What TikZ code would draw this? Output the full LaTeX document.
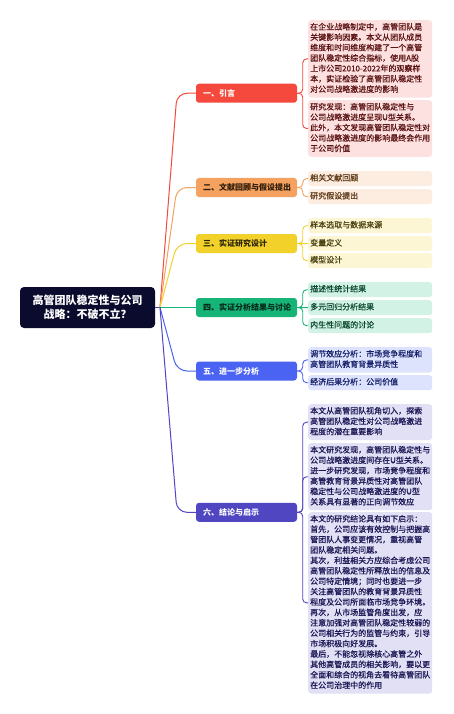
\documentclass[tikz,border=0pt]{standalone}
\usepackage{fontspec}
\setmainfont{Noto Sans CJK SC}
\newfontfamily\leaffont[RawFeature={embolden=0.6}]{Noto Sans CJK SC}
\definecolor{rootc}{HTML}{0B0B2E}
\definecolor{stubc}{HTML}{3B3F9E}
\definecolor{redB}{HTML}{F4493C}\definecolor{redL}{HTML}{FDE1E0}\definecolor{redT}{HTML}{5B1414}
\definecolor{oraB}{HTML}{F5A261}\definecolor{oraL}{HTML}{FDEDE0}\definecolor{oraT}{HTML}{5C3714}\definecolor{oraBT}{HTML}{2B1A08}
\definecolor{yelB}{HTML}{F2D12A}\definecolor{yelL}{HTML}{FDF6D5}\definecolor{yelT}{HTML}{4D4312}\definecolor{yelBT}{HTML}{2A2408}
\definecolor{grnB}{HTML}{17B477}\definecolor{grnL}{HTML}{D2F2E5}\definecolor{grnT}{HTML}{0D4A30}\definecolor{grnBT}{HTML}{06281A}
\definecolor{bluB}{HTML}{4A63F2}\definecolor{bluL}{HTML}{DEE3FD}\definecolor{bluT}{HTML}{16206A}
\definecolor{purB}{HTML}{5146C2}\definecolor{purL}{HTML}{E1E0F5}\definecolor{purT}{HTML}{1C1855}
\begin{document}
\begin{tikzpicture}[x=1pt,y=-1pt,
  rootbox/.style={fill=rootc, text=white, rounded corners=4pt, minimum width=135pt, minimum height=41pt, align=center, inner sep=2pt, font=\fontsize{11}{13.5}\selectfont\bfseries},
  leaf/.style={rounded corners=3pt, anchor=north west, text width=120pt, inner xsep=2pt, inner ysep=2.3pt, align=left, font=\leaffont\fontsize{8}{10.4}\selectfont, execute at begin node=\strut, execute at end node=\strut},
  branch/.style={rounded corners=3pt, text width=87pt, inner xsep=7pt, inner ysep=0pt, minimum height=19pt, align=left, font=\fontsize{8}{10}\selectfont\bfseries},
  link/.style={line width=1pt, rounded corners=10pt},
  sub/.style={line width=0.9pt, rounded corners=4pt}]
\useasboundingbox (0,0) rectangle (453,714);
\fill[white] (0,0) rectangle (453,714);

\node[rootbox] (root) at (87.5,307.5) {高管团队稳定性与公司\\战略：不破不立？};
\coordinate (J) at (160,307.5);

\node[branch, fill=redB, text=white] (b1) at (246.5,93.25) {一、引言};
\node[branch, fill=oraB, text=oraBT] (b2) at (246.5,187.5) {二、文献回顾与假设提出};
\node[branch, fill=yelB, text=yelBT] (b3) at (246.5,243.5) {三、实证研究设计};
\node[branch, fill=grnB, text=grnBT] (b4) at (246.5,307.5) {四、实证分析结果与讨论};
\node[branch, fill=bluB, text=white] (b5) at (246.5,371) {五、进一步分析};
\node[branch, fill=purB, text=white] (b6) at (246.5,512.3) {六、结论与启示};

\node[leaf, fill=redL, text=redT] (l11) at (308,20) {在企业战略制定中，高管团队是\\关键影响因素。本文从团队成员\\维度和时间维度构建了一个高管\\团队稳定性综合指标，使用A股\\上市公司2010-2022年的观察样\\本，实证检验了高管团队稳定性\\对公司战略激进度的影响};
\node[leaf, fill=redL, text=redT] (l12) at (308,100) {研究发现：高管团队稳定性与\\公司战略激进度呈现U型关系。\\此外，本文发现高管团队稳定性对\\公司战略激进度的影响最终会作用\\于公司价值};

\node[leaf, fill=oraL, text=oraT] (l21) at (308,171) {相关文献回顾};
\node[leaf, fill=oraL, text=oraT] (l22) at (308,189) {研究假设提出};

\node[leaf, fill=yelL, text=yelT] (l31) at (308,218) {样本选取与数据来源};
\node[leaf, fill=yelL, text=yelT] (l32) at (308,236) {变量定义};
\node[leaf, fill=yelL, text=yelT] (l33) at (308,253) {模型设计};

\node[leaf, fill=grnL, text=grnT] (l41) at (308,282) {描述性统计结果};
\node[leaf, fill=grnL, text=grnT] (l42) at (308,300) {多元回归分析结果};
\node[leaf, fill=grnL, text=grnT] (l43) at (308,318) {内生性问题的讨论};

\node[leaf, fill=bluL, text=bluT] (l51) at (308,347) {调节效应分析：市场竞争程度和\\高管团队教育背景异质性};
\node[leaf, fill=bluL, text=bluT] (l52) at (308,375) {经济后果分析：公司价值};

\node[leaf, fill=purL, text=purT] (l61) at (308,404) {本文从高管团队视角切入，探索\\高管团队稳定性对公司战略激进\\程度的潜在重要影响};
\node[leaf, fill=purL, text=purT] (l62) at (308,443) {本文研究发现，高管团队稳定性与\\公司战略激进度间存在U型关系。\\进一步研究发现，市场竞争程度和\\高管教育背景异质性对高管团队\\稳定性与公司战略激进度的U型\\关系具有显著的正向调节效应};
\node[leaf, fill=purL, text=purT] (l63) at (308,512) {本文的研究结论具有如下启示：\\首先，公司应该有效控制与把握高\\管团队人事变更情况，重视高管\\团队稳定相关问题。\\其次，利益相关方应综合考虑公司\\高管团队稳定性所释放出的信息及\\公司特定情境；同时也要进一步\\关注高管团队的教育背景异质性\\程度及公司所面临市场竞争环境。\\再次，从市场监管角度出发，应\\注意加强对高管团队稳定性较弱的\\公司相关行为的监管与约束，引导\\市场积极向好发展。\\最后，不能忽视除核心高管之外\\其他高管成员的相关影响，要以更\\全面和综合的视角去看待高管团队\\在公司治理中的作用};

% root connectors
\draw[line width=1pt, stubc] (root.east) -- (J);
\draw[link, redB] (J) -- (177,93.25) -- (b1.west);
\draw[link, oraB] (J) -- (177,187.5) -- (b2.west);
\draw[link, yelB] (J) -- (177,243.5) -- (b3.west);
\draw[link, grnB] (J) -- (b4.west);
\draw[link, bluB] (J) -- (177,371) -- (b5.west);
\draw[link, purB] (J) -- (177,512.3) -- (b6.west);

% leaf connectors
\draw[sub, redB] (b1.east) -- ++(5.5,0) |- (l11.west);
\draw[sub, redB] (b1.east) -- ++(5.5,0) |- (l12.west);
\draw[sub, oraB] (b2.east) -- ++(5.5,0) |- (l21.west);
\draw[sub, oraB] (b2.east) -- ++(5.5,0) |- (l22.west);
\draw[sub, yelB] (b3.east) -- ++(5.5,0) |- (l31.west);
\draw[sub, yelB] (b3.east) -- (l32.west);
\draw[sub, yelB] (b3.east) -- ++(5.5,0) |- (l33.west);
\draw[sub, grnB] (b4.east) -- ++(5.5,0) |- (l41.west);
\draw[sub, grnB] (b4.east) -- (l42.west);
\draw[sub, grnB] (b4.east) -- ++(5.5,0) |- (l43.west);
\draw[sub, bluB] (b5.east) -- ++(5.5,0) |- (l51.west);
\draw[sub, bluB] (b5.east) -- ++(5.5,0) |- (l52.west);
\draw[sub, purB] (b6.east) -- ++(5.5,0) |- (l61.west);
\draw[sub, purB] (b6.east) -- ++(5.5,0) |- (l62.west);
\draw[sub, purB] (b6.east) -- ++(5.5,0) |- (l63.west);
\end{tikzpicture}
\end{document}
